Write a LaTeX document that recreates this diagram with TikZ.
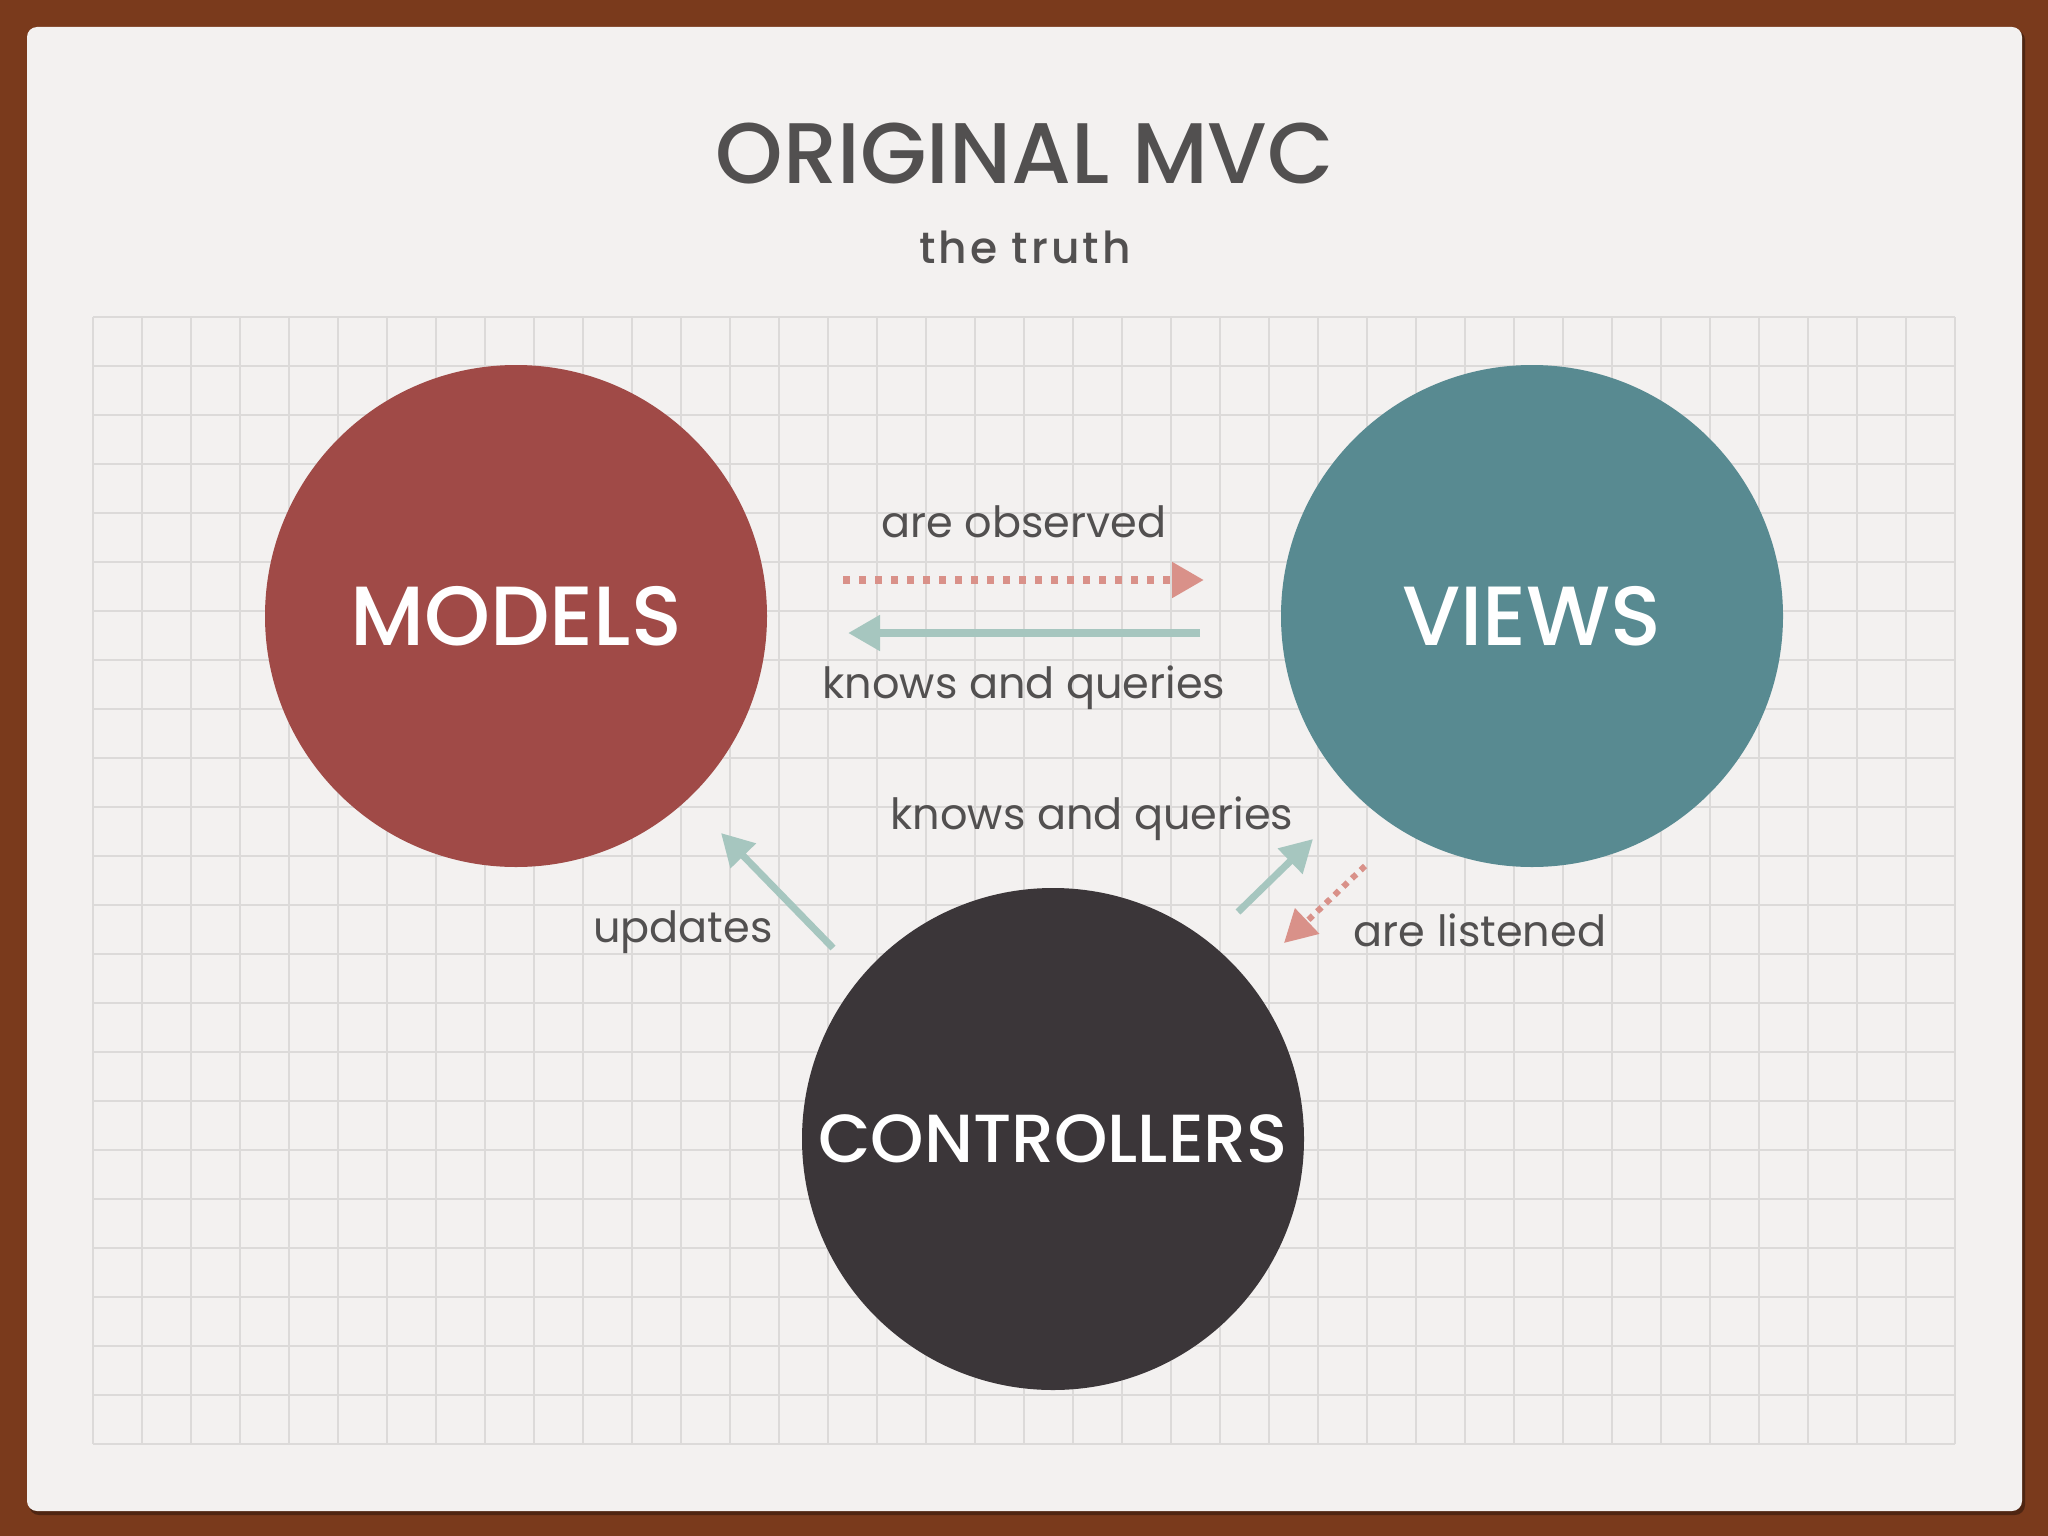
\documentclass[tikz,border=0pt]{standalone}
\usepackage{fontspec}
\setmainfont{Poppins}
\newfontfamily\popmed{Poppins Medium}
\usetikzlibrary{arrows.meta}
\definecolor{frame}{HTML}{7A3A1C}
\definecolor{paper}{HTML}{F3F1F0}
\definecolor{gridc}{HTML}{DCDAD9}
\definecolor{ink}{HTML}{525050}
\definecolor{modelc}{HTML}{A04A47}
\definecolor{viewc}{HTML}{588A91}
\definecolor{ctrlc}{HTML}{3B3639}
\definecolor{salmon}{HTML}{D99189}
\definecolor{sage}{HTML}{A6C6BF}
\tikzset{
  bigcircle/.style={circle, minimum size=502pt, inner sep=0pt, text=white},
  label/.style={text=ink, font=\fontsize{43}{50}\selectfont, inner sep=0pt},
  solidarrow/.style={draw=sage, line width=8pt, -{Triangle[length=32pt,width=34pt]}},
  dotarrow/.style={draw=salmon, line width=8pt, dash pattern=on 7pt off 9pt, -{Triangle[length=32pt,width=34pt]}},
}
\begin{document}
\begin{tikzpicture}[x=1pt,y=-1pt]
\useasboundingbox (0,0) rectangle (2048,1536);
\fill[frame] (0,0) rectangle (2048,1536);
\fill[black, opacity=0.35, rounded corners=10pt] (29,30) rectangle (2025,1515);
\fill[paper, rounded corners=10pt] (27,27) rectangle (2022,1511);
% grid
\foreach \i in {0,...,38} \draw[gridc, line width=1.2pt] (93+49*\i,317) -- (93+49*\i,1444);
\foreach \j in {0,...,23} \draw[gridc, line width=1.2pt] (93,317+49*\j) -- (1955,317+49*\j);
% titles
\node[text=ink, anchor=base, inner sep=0pt, font=\popmed\fontsize{86}{100}\selectfont] (title) at (1025,183) {ORIGINAL MVC};
\node[text=ink, anchor=base, inner sep=0pt, font=\popmed\fontsize{44}{50}\selectfont\addfontfeature{LetterSpace=7}] (sub) at (1025,263) {the truth};
% circles
\node[bigcircle, fill=modelc, font=\popmed\fontsize{84}{90}\selectfont] (models) at (516,616) {MODELS};
\node[bigcircle, fill=viewc, font=\popmed\fontsize{84}{90}\selectfont] (views) at (1532,616) {VIEWS};
\node[bigcircle, fill=ctrlc, font=\popmed\fontsize{68}{80}\selectfont] (controllers) at (1053,1139) {CONTROLLERS};
% arrow end points
\coordinate (obsA) at (843,580);
\coordinate (obsB) at (1204,580);
\coordinate (kqA) at (1200,633);
\coordinate (kqB) at (848,633);
\coordinate (upA) at (833,948);
\coordinate (upB) at (721,833);
\coordinate (kq2A) at (1238,912);
\coordinate (kq2B) at (1313,839);
\coordinate (liA) at (1365,866);
\coordinate (liB) at (1284,943);
\draw[dotarrow] (obsA) -- (obsB);
\draw[solidarrow] (kqA) -- (kqB);
\draw[solidarrow, line width=7pt] (upA) -- (upB);
\draw[solidarrow, line width=7pt] (kq2A) -- (kq2B);
\draw[dotarrow, line width=6pt, dash pattern=on 6pt off 6pt] (liA) -- (liB);
% labels
\node[label] (lobs) at (1024,522) {are observed};
\node[label] (lkq) at (1024,688) {knows and queries};
\node[label] (lkq2) at (1092,819) {knows and queries};
\node[label] (lup) at (683,932) {updates};
\node[label] (lli) at (1480,930) {are listened};
\end{tikzpicture}
\end{document}
